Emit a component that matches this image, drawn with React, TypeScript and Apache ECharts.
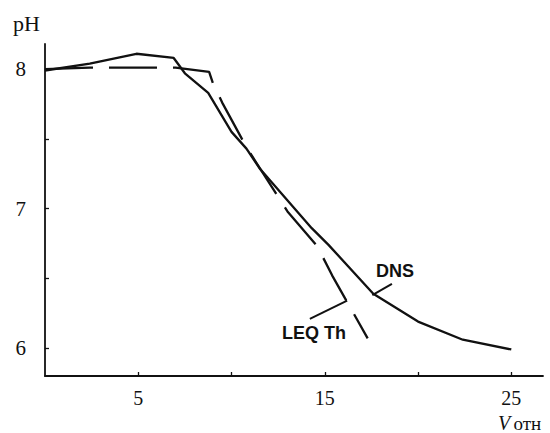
import React, { useEffect, useRef } from "react";
import * as echarts from "echarts";

const dnsX = [0, 2.4, 4.9, 6.9, 7.5, 8.75, 10.0, 10.8, 11.5, 14.3, 15.2, 17.6, 20.0, 22.4, 25.0];
const dnsY = [7.99, 8.04, 8.11, 8.08, 7.97, 7.83, 7.55, 7.43, 7.29, 6.86, 6.74, 6.39, 6.19, 6.06, 5.99];

const leqX = [0, 2.4, 5.0, 7.0, 8.8, 9.0, 9.5, 10.8, 13.0, 14.6, 15.4, 17.3];
const leqY = [8.0, 8.01, 8.01, 8.01, 7.98, 7.9, 7.76, 7.44, 6.98, 6.73, 6.52, 6.07];

const xLabelValues = [5, 15, 25];
const xTickValues = [5, 10, 15, 20, 25];
const yLabelValues = [6, 7, 8];
const yTickValues = [6, 6.5, 7, 7.5, 8];

const dnsLeader = [[17.55, 6.38], [18.6, 6.46]];
const leqLeader = [[14.2, 6.21], [16.2, 6.34]];

const ink = "#111";

export default function App() {
  const ref = useRef<HTMLDivElement>(null);
  useEffect(() => {
    if (!ref.current) return;
    const chart = echarts.init(ref.current, undefined, { renderer: "svg" });
    const axisCommon = {
      axisLine: { show: true, lineStyle: { color: ink, width: 1.8 } },
      splitLine: { show: false },
    };
    chart.setOption({
      animation: false,
      backgroundColor: "#fff",
      grid: { left: 45, right: 7, top: 44, bottom: 57 },
      xAxis: {
        type: "value",
        min: 0,
        max: 26.7,
        ...axisCommon,
        axisTick: { show: true, inside: true, length: 4, customValues: xTickValues, lineStyle: { color: ink, width: 1.3 } },
        axisLabel: {
          customValues: xLabelValues,
          margin: 12,
          color: ink,
          fontFamily: "Liberation Serif",
          fontSize: 20,
        },
      },
      yAxis: {
        type: "value",
        min: 5.8,
        max: 8.18,
        ...axisCommon,
        axisTick: { show: true, inside: true, length: 4, customValues: yTickValues, lineStyle: { color: ink, width: 1.3 } },
        axisLabel: {
          customValues: yLabelValues,
          margin: 19,
          color: ink,
          fontFamily: "Liberation Serif",
          fontSize: 21,
        },
      },
      series: [
        {
          name: "DNS",
          type: "line",
          data: dnsX.map((x, i) => [x, dnsY[i]]),
          symbol: "none",
          lineStyle: { color: ink, width: 2.3 },
          markLine: {
            silent: true,
            symbol: "none",
            label: { show: false },
            lineStyle: { color: ink, width: 2, type: "solid" },
            data: [[{ coord: dnsLeader[0] }, { coord: dnsLeader[1] }]],
          },
        },
        {
          name: "LEQ Th",
          type: "line",
          data: leqX.map((x, i) => [x, leqY[i]]),
          symbol: "none",
          lineStyle: { color: ink, width: 2.3, type: [48, 16] },
          markLine: {
            silent: true,
            symbol: "none",
            label: { show: false },
            lineStyle: { color: ink, width: 2, type: "solid" },
            data: [[{ coord: leqLeader[0] }, { coord: leqLeader[1] }]],
          },
        },
      ],
      graphic: [
        {
          type: "text",
          left: 13,
          top: 12,
          style: { text: "pH", fill: ink, font: "22px 'Liberation Serif'" },
        },
        {
          type: "text",
          left: 376,
          top: 262,
          style: { text: "DNS", fill: ink, font: "bold 18px 'Liberation Sans'" },
        },
        {
          type: "text",
          left: 282,
          top: 324,
          style: { text: "LEQ Th", fill: ink, font: "bold 18px 'Liberation Sans'" },
        },
        {
          type: "text",
          left: 498,
          top: 413,
          style: {
            text: "{v|V} {s|отн}",
            fill: ink,
            rich: {
              v: { fontFamily: "Liberation Serif", fontStyle: "italic", fontSize: 20, fill: ink },
              s: { fontFamily: "Liberation Serif", fontSize: 19, fill: ink },
            },
          },
        },
      ],
    });
    return () => chart.dispose();
  }, []);
  return <div ref={ref} style={{ position: "fixed", left: 0, top: 0, width: 550, height: 433 }} />;
}
